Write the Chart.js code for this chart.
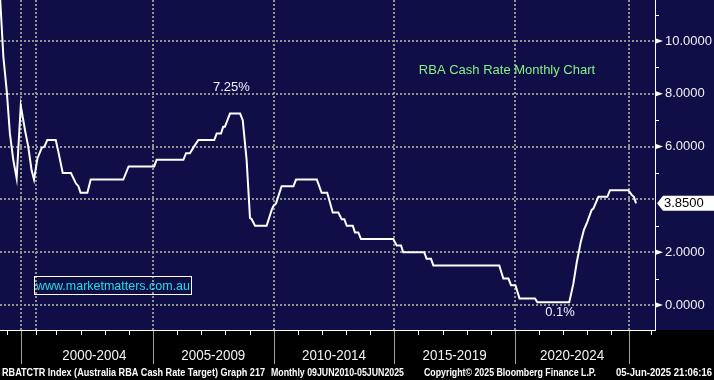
<!DOCTYPE html>
<html>
<head>
<meta charset="utf-8">
<title>RBA Cash Rate Monthly Chart</title>
<script src="https://cdn.jsdelivr.net/npm/chart.js@4.4.1/dist/chart.umd.min.js"></script>
<style>
  html, body { margin: 0; padding: 0; background: #000; }
  #wrap { width: 714px; height: 380px; }
</style>
</head>
<body>
<div id="wrap"><canvas id="rbaChart" width="714" height="380"></canvas></div>
<script>
'use strict';

// x positions (decimal years)
const dates = [1998.66, 1998.80, 1998.94, 1999.07, 1999.21, 1999.35, 1999.52, 1999.70, 1999.83, 1999.97,
  2000.07, 2000.21, 2000.39, 2000.50, 2000.62, 2000.97, 2001.08, 2001.26, 2001.60, 2001.81,
  2001.91, 2002.00, 2002.28, 2002.42, 2003.77, 2003.99, 2005.05, 2005.15, 2006.26, 2006.37,
  2006.53, 2006.70, 2006.88, 2007.54, 2007.64, 2007.82, 2007.91, 2007.98, 2008.19, 2008.61,
  2008.72, 2008.88, 2009.02, 2009.09, 2009.23, 2009.71, 2009.92, 2009.99, 2010.10, 2010.33,
  2010.82, 2010.93, 2011.79, 2011.99, 2012.22, 2012.45, 2012.68, 2012.82, 2012.93, 2013.03,
  2013.28, 2013.37, 2013.51, 2013.62, 2014.96, 2015.10, 2015.28, 2015.37, 2016.24, 2016.34,
  2016.52, 2016.62, 2019.35, 2019.52, 2019.73, 2019.84, 2020.02, 2020.19, 2020.83, 2020.93,
  2022.25, 2022.42, 2022.56, 2022.73, 2022.86, 2023.00, 2023.18, 2023.25, 2023.46, 2023.83,
  2023.94, 2024.70, 2024.84, 2024.93, 2025.02];

const cashRate = [11.7, 9.4, 8.1, 6.5, 5.5, 4.8, 7.55, 6.6, 6.0, 5.1,
  4.75, 5.55, 5.95, 6.0, 6.25, 6.25, 5.8, 5.0, 5.0, 4.6,
  4.5, 4.25, 4.25, 4.75, 4.75, 5.25, 5.25, 5.5, 5.5, 5.75,
  5.75, 6.0, 6.25, 6.25, 6.5, 6.5, 6.75, 6.75, 7.25, 7.25,
  7.0, 5.5, 3.3, 3.25, 3.0, 3.0, 3.6, 3.75, 3.85, 4.5,
  4.5, 4.75, 4.75, 4.25, 4.25, 3.5, 3.5, 3.25, 3.25, 3.0,
  3.0, 2.75, 2.75, 2.5, 2.5, 2.25, 2.25, 2.0, 2.0, 1.75,
  1.75, 1.5, 1.5, 1.0, 1.0, 0.75, 0.75, 0.25, 0.25, 0.1,
  0.1, 0.8, 1.6, 2.4, 2.85, 3.15, 3.6, 3.65, 4.1, 4.1,
  4.35, 4.35, 4.17, 4.1, 3.85];

const lastValue = 3.85;

const yTicks = [0, 2, 4, 6, 8, 10];
const yMinorTicks = [1, 3, 5, 7, 9, 11];

const gridYears = [1999.53, 2000.15, 2005, 2010, 2015, 2020, 2024.73];
const separatorYears = [1999.53, 2005, 2010, 2015, 2020, 2024.73];
const tickYears = [1998.93, 2000.15, 2001, 2002, 2003, 2004, 2006, 2007, 2008, 2009,
  2011, 2012, 2013, 2014, 2016, 2017, 2018, 2019, 2021, 2022, 2023, 2024, 2025.64];

const periodLabels = ['2000-2004', '2005-2009', '2010-2014', '2015-2019', '2020-2024'];
const periodCenters = [2002.57, 2007.5, 2012.5, 2017.5, 2022.37];

const footerTexts = [
  'RBATCTR Index (Australia RBA Cash Rate Target) Graph 217',
  'Monthly 09JUN2010-05JUN2025',
  'Copyright\u00A9 2025 Bloomberg Finance L.P.',
  '05-Jun-2025 21:06:16'
];

const NAVY = '#0f0e46';
const GRID = '#929292';
const FONT = '"Liberation Sans", Arial, sans-serif';

let points = [];
for (let i = 0; i < dates.length; i++) {
  points.push({x: dates[i], y: cashRate[i]});
}

// background, bottom band, axis decorations and text
const bloombergDecor = {
  id: 'bloombergDecor',
  beforeDraw(chart) {
    const ctx = chart.ctx;
    const area = chart.chartArea;
    ctx.save();
    ctx.fillStyle = NAVY;
    ctx.fillRect(0, 0, chart.width, chart.height);
    ctx.fillStyle = '#000';
    ctx.fillRect(0, area.bottom, chart.width, chart.height - area.bottom);
    ctx.restore();
  },
  afterDraw(chart) {
    const ctx = chart.ctx;
    const area = chart.chartArea;
    const xs = chart.scales.x;
    const ys = chart.scales.y;
    ctx.save();

    // period separators
    ctx.strokeStyle = '#a0a0a0';
    ctx.lineWidth = 1;
    separatorYears.forEach(function(yr) {
      let px = Math.round(xs.getPixelForValue(yr)) + 0.5;
      ctx.beginPath();
      ctx.moveTo(px, area.bottom + 1);
      ctx.lineTo(px, area.bottom + 34);
      ctx.stroke();
    });

    // yearly ticks
    ctx.strokeStyle = '#ffffff';
    tickYears.forEach(function(yr) {
      let px = Math.round(xs.getPixelForValue(yr)) + 0.5;
      ctx.beginPath();
      ctx.moveTo(px, area.bottom + 1);
      ctx.lineTo(px, area.bottom + 5);
      ctx.stroke();
    });

    // period labels
    ctx.fillStyle = '#f2f2f2';
    ctx.textAlign = 'center';
    ctx.textBaseline = 'middle';
    ctx.font = '14px ' + FONT;
    for (let i = 0; i < periodLabels.length; i++) {
      ctx.fillText(periodLabels[i], xs.getPixelForValue(periodCenters[i]), area.bottom + 26, 64);
    }

    // footer
    ctx.textAlign = 'left';
    ctx.font = 'bold 11px ' + FONT;
    ctx.fillStyle = '#ffffff';
    const footerX = [2, 271, 424, 616];
    const footerW = [263, 133, 172, 96];
    for (let i = 0; i < footerTexts.length; i++) {
      ctx.fillText(footerTexts[i], footerX[i], 373, footerW[i]);
    }

    // right axis markers
    ctx.fillStyle = '#ffffff';
    yTicks.forEach(function(v) {
      if (v === 4) return;
      let py = ys.getPixelForValue(v);
      ctx.beginPath();
      ctx.moveTo(area.right + 1, py - 2.5);
      ctx.lineTo(area.right + 8, py);
      ctx.lineTo(area.right + 1, py + 2.5);
      ctx.closePath();
      ctx.fill();
    });
    ctx.strokeStyle = '#ffffff';
    yMinorTicks.forEach(function(v) {
      let py = Math.round(ys.getPixelForValue(v)) + 0.5;
      ctx.beginPath();
      ctx.moveTo(area.right, py);
      ctx.lineTo(area.right + 4, py);
      ctx.stroke();
    });

    // last value box
    let ly = ys.getPixelForValue(lastValue);
    ctx.fillStyle = '#ffffff';
    ctx.beginPath();
    ctx.moveTo(area.right + 2, ly);
    ctx.lineTo(area.right + 8, ly - 7.5);
    ctx.lineTo(chart.width, ly - 7.5);
    ctx.lineTo(chart.width, ly + 7.5);
    ctx.lineTo(area.right + 8, ly + 7.5);
    ctx.closePath();
    ctx.fill();
    ctx.fillStyle = '#000000';
    ctx.font = '13px ' + FONT;
    ctx.fillText(lastValue.toFixed(4), area.right + 9, ly + 0.5);

    // annotations
    ctx.textAlign = 'center';
    ctx.fillStyle = '#eef2ff';
    ctx.fillText('7.25%', xs.getPixelForValue(2008.25), ys.getPixelForValue(8.26));
    ctx.fillText('0.1%', xs.getPixelForValue(2021.87), ys.getPixelForValue(-0.30));

    ctx.fillStyle = '#86f086';
    ctx.fillText('RBA Cash Rate Monthly Chart', 507, 70);

    ctx.strokeStyle = '#ffffff';
    ctx.lineWidth = 1;
    ctx.strokeRect(34.5, 276.5, 157, 18);
    ctx.fillStyle = '#22dde6';
    ctx.fillText('www.marketmatters.com.au', 113, 286, 154);

    ctx.restore();
  }
};

const ctx = document.getElementById('rbaChart');

new Chart(ctx, {
  type: 'line',
  data: {
    datasets: [{
      label: 'RBA Cash Rate',
      data: points,
      borderColor: '#ffffff',
      borderWidth: 2,
      pointRadius: 0,
      tension: 0,
      fill: false
    }]
  },
  options: {
    responsive: false,
    devicePixelRatio: 1,
    animation: false,
    layout: { padding: 0 },
    plugins: {
      legend: { display: false },
      tooltip: { enabled: false }
    },
    scales: {
      x: {
        type: 'linear',
        min: 1998.66,
        max: 2025.805,
        afterBuildTicks: function(scale) {
          scale.ticks = gridYears.map(function(v) { return {value: v}; });
        },
        afterFit: function(scale) {
          scale.height = 50;
          scale.paddingLeft = 0;
          scale.paddingRight = 0;
        },
        ticks: { display: false },
        grid: { color: GRID, lineWidth: 2, drawTicks: false },
        border: { display: true, color: '#ffffff', width: 1, dash: [2, 2] }
      },
      y: {
        type: 'linear',
        position: 'right',
        min: -0.947,
        max: 11.553,
        afterBuildTicks: function(scale) {
          scale.ticks = yTicks.map(function(v) { return {value: v}; });
        },
        afterFit: function(scale) {
          scale.width = 59;
          scale.paddingTop = 0;
          scale.paddingBottom = 0;
        },
        ticks: {
          color: '#f2f2f2',
          padding: 10,
          font: { family: FONT, size: 13 },
          callback: function(v) { return v === 4 ? '' : v.toFixed(4); }
        },
        grid: { color: GRID, lineWidth: 2, drawTicks: false },
        border: { display: true, color: '#ffffff', width: 1, dash: [2, 2] }
      }
    }
  },
  plugins: [bloombergDecor]
});
</script>
</body>
</html>
